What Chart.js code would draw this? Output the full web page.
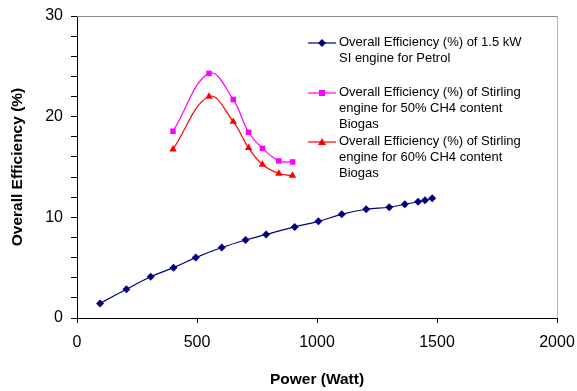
<!DOCTYPE html>
<html>
<head>
<meta charset="utf-8">
<script src="https://cdn.jsdelivr.net/npm/chart.js@4/dist/chart.umd.min.js"></script>
<style>
  html, body { margin: 0; padding: 0; background: #fff; }
  #Contenedor { position: relative; width: 577px; height: 391px; font-family: Arial, "Liberation Sans", sans-serif; }
  #Grafico { position: absolute; left: 0; top: 0; }
  #Leyenda { position: absolute; left: 308px; top: 0; font-size: 13px; line-height: 16px; color: #000; }
  .ItemLeyenda { position: absolute; left: 0; white-space: nowrap; }
  .ItemLeyenda svg { position: absolute; left: 0; top: 4px; }
  .ItemLeyenda .Texto { position: absolute; left: 31px; top: 0; }
</style>
</head>
<body>
<div id="Contenedor">
  <canvas id="Grafico" width="577" height="391"></canvas>
  <div id="Leyenda"></div>
</div>
<script>
// Datos
const PotenciaSI    = [96, 206, 307, 402, 495, 603, 702, 788, 907, 1006, 1103, 1205, 1301, 1366, 1421, 1450, 1480];
const EficienciaSI  = [1.45, 2.85, 4.1, 5.0, 6.0, 7.0, 7.75, 8.3, 9.05, 9.6, 10.3, 10.8, 11.0, 11.3, 11.55, 11.7, 11.9];
const PotenciaStirling = [400, 550, 651, 715, 773, 841, 898];
const Eficiencia50  = [18.55, 24.3, 21.7, 18.45, 16.85, 15.6, 15.5];
const Eficiencia60  = [16.75, 22.0, 19.5, 16.9, 15.25, 14.35, 14.15];
const TicksX = [0, 500, 1000, 1500, 2000];
const TicksY = [0, 10, 20, 30];

const Series = [
  { Nombre: ['Overall Efficiency (%) of 1.5 kW', 'SI engine for Petrol'], X: PotenciaSI, Y: EficienciaSI, Color: '#000080', Punto: 'rectRot', Radio: 4, Top: 34 },
  { Nombre: ['Overall Efficiency (%) of Stirling', 'engine for 50% CH4 content', 'Biogas'], X: PotenciaStirling, Y: Eficiencia50, Color: '#FF00FF', Punto: 'rect', Radio: 3.9, Top: 84 },
  { Nombre: ['Overall Efficiency (%) of Stirling', 'engine for 60% CH4 content', 'Biogas'], X: PotenciaStirling, Y: Eficiencia60, Color: '#FF0000', Punto: 'triangle', Radio: 4.3, Top: 133 }
];

const Fuente = 'Arial, "Liberation Sans", sans-serif';

function SimboloSvg(S) {
  let Marca = '';
  if (S.Punto === 'rectRot') Marca = `<polygon points="14,1 18,5 14,9 10,5" fill="${S.Color}"/>`;
  else if (S.Punto === 'rect') Marca = `<rect x="11" y="2" width="6" height="6" fill="${S.Color}"/>`;
  else Marca = `<polygon points="14,1 18,8 10,8" fill="${S.Color}"/>`;
  return `<svg width="28" height="10"><line x1="0" y1="5" x2="28" y2="5" stroke="${S.Color}" stroke-width="1.2"/>${Marca}</svg>`;
}

document.getElementById('Leyenda').innerHTML = Series.map(S => `
  <div class="ItemLeyenda" style="top:${S.Top}px">
    ${SimboloSvg(S)}
    <div class="Texto">${S.Nombre.join('<br>')}</div>
  </div>`).join('');

const MarcoGris = {
  id: 'MarcoGris',
  beforeDatasetsDraw(Grafico) {
    const { ctx, chartArea: A } = Grafico;
    ctx.save();
    ctx.lineWidth = 1;
    ctx.strokeStyle = '#8c8c8c';
    ctx.beginPath();
    ctx.moveTo(A.left, A.top + 0.5);
    ctx.lineTo(A.right, A.top + 0.5);
    ctx.stroke();
    ctx.strokeStyle = '#b4b4b4';
    ctx.beginPath();
    ctx.moveTo(A.right + 0.5, A.top);
    ctx.lineTo(A.right + 0.5, A.bottom);
    ctx.stroke();
    ctx.restore();
  }
};

new Chart(document.getElementById('Grafico').getContext('2d'), {
  type: 'line',
  data: {
    datasets: Series.map(S => ({
      label: S.Nombre.join(' '),
      data: S.X.map((V, I) => ({ x: V, y: S.Y[I] })),
      borderColor: S.Color,
      backgroundColor: S.Color,
      borderWidth: 1.2,
      pointStyle: S.Punto,
      pointRadius: S.Radio,
      pointBorderWidth: 0,
      tension: 0.4,
      fill: false
    }))
  },
  options: {
    responsive: false,
    devicePixelRatio: 1,
    animation: false,
    layout: { padding: { top: 16, right: 20, left: 0, bottom: 0 } },
    plugins: { legend: { display: false }, tooltip: { enabled: false } },
    scales: {
      x: {
        type: 'linear',
        min: 0, max: 2000,
        afterFit: Escala => { Escala.height = 73; Escala.paddingLeft = 0; Escala.paddingRight = 0; },
        afterBuildTicks: Escala => { Escala.ticks = TicksX.map(V => ({ value: V })); },
        ticks: { color: '#000', font: { family: Fuente, size: 16 }, padding: 10, maxRotation: 0, autoSkip: false, callback: V => String(V) },
        grid: { drawOnChartArea: false, drawTicks: true, tickLength: 5, color: '#000', tickColor: '#000' },
        border: { color: '#000', width: 1 },
        title: { display: true, text: 'Power (Watt)', color: '#000', font: { family: Fuente, size: 15.5, weight: 'bold' }, padding: { top: 0, bottom: 2 } }
      },
      y: {
        min: 0, max: 30,
        afterFit: Escala => { Escala.width = 77; Escala.paddingTop = 0; Escala.paddingBottom = 0; },
        ticks: {
          stepSize: 2,
          autoSkip: false,
          color: '#000',
          font: { family: Fuente, size: 16 },
          padding: 8,
          callback: V => TicksY.includes(V) ? String(V) : ''
        },
        grid: { drawOnChartArea: false, drawTicks: true, tickLength: 6, color: '#000', tickColor: '#000' },
        border: { color: '#000', width: 1 },
        title: { display: true, text: 'Overall Efficiency (%)', color: '#000', font: { family: Fuente, size: 15.5, weight: 'bold' }, padding: { top: 8, bottom: 0 } }
      }
    }
  },
  plugins: [MarcoGris]
});
</script>
</body>
</html>
